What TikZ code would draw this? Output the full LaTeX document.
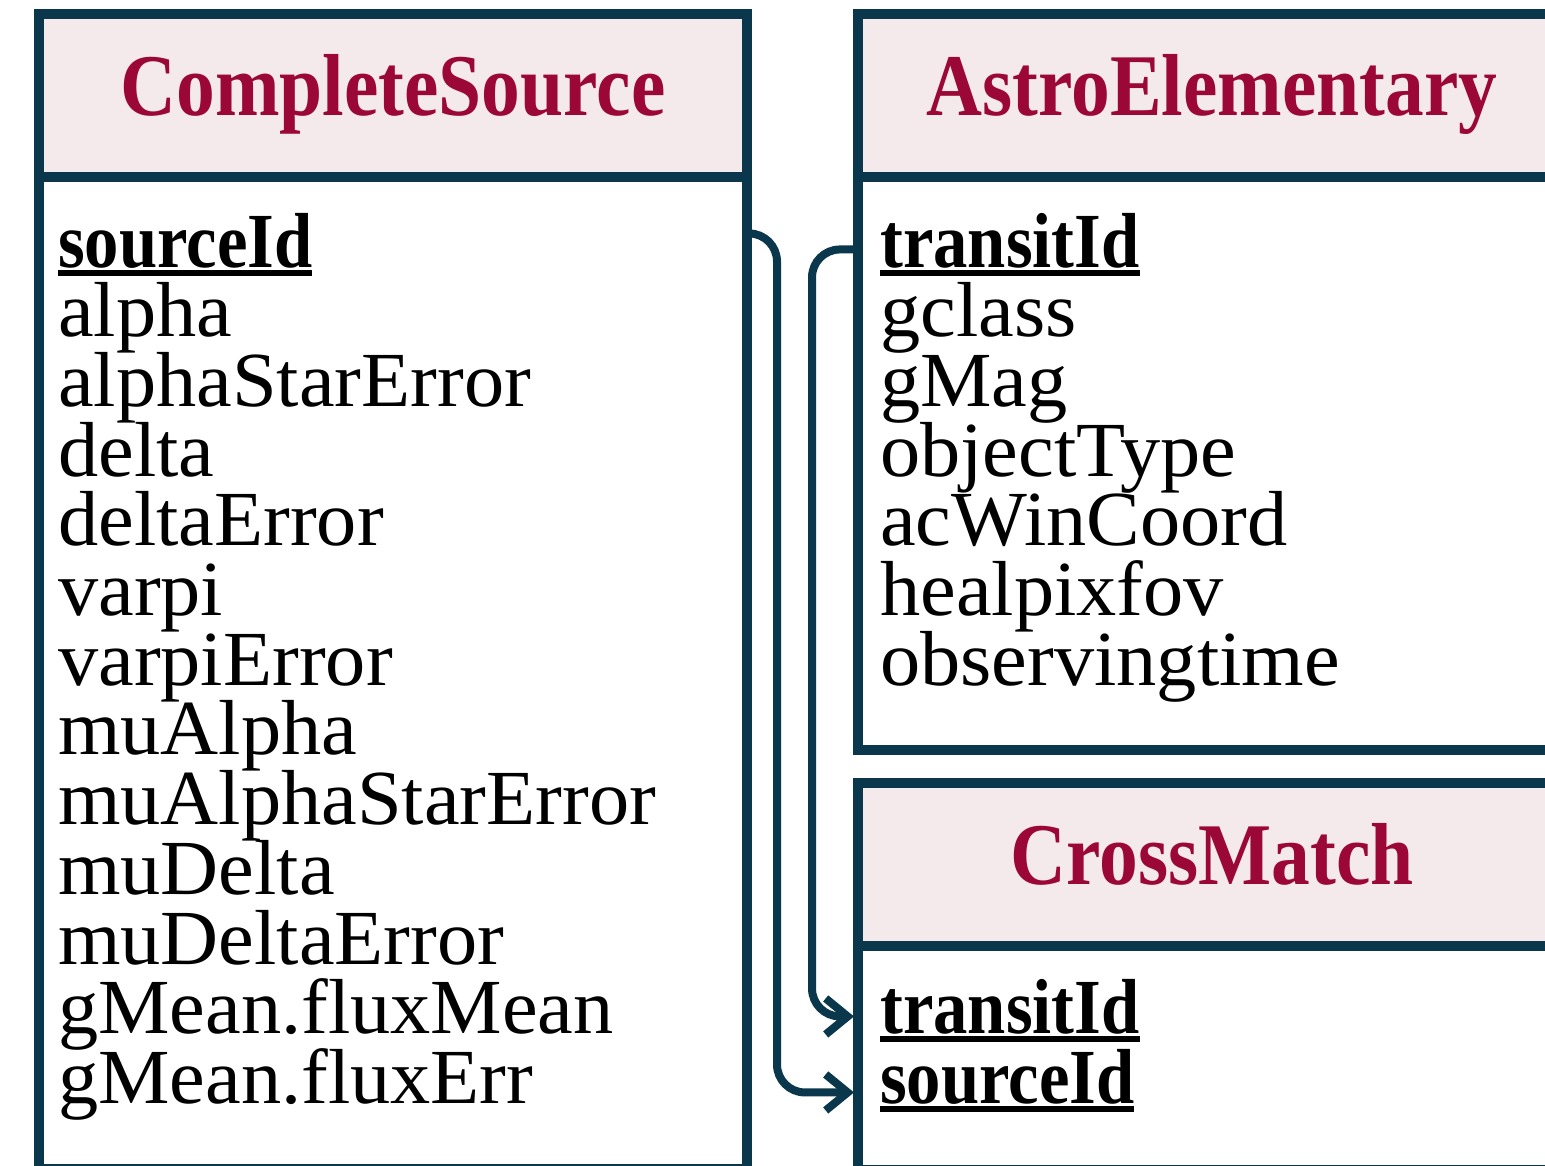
\documentclass[tikz,border=0pt]{standalone}
\usepackage{fontspec}
\setmainfont{Liberation Serif}
\newfontfamily\narrowfont{Liberation Serif}[FakeStretch=0.88]
\newfontfamily\bodyfont{Liberation Serif}[FakeStretch=1.03]
\usetikzlibrary{positioning, arrows.meta}

\definecolor{linecol}{RGB}{10,55,75}
\definecolor{headfill}{RGB}{244,233,235}
\definecolor{titlecol}{RGB}{155,8,55}

% key column: bold, underlined
\newcommand{\pk}[1]{\setbox0\hbox{\narrowfont\bfseries #1}\rlap{\rule[-9pt]{\wd0}{6pt}}\box0}

\tikzset{
  tabhead/.style={draw=linecol, fill=headfill, line width=10pt, anchor=north west,
    outer sep=0pt, minimum width=708pt, minimum height=163pt, text=titlecol,
    font=\narrowfont\bfseries\fontsize{88}{88}\selectfont,
    text height=62pt, text depth=22pt},
  tabbody/.style={draw=linecol, fill=white, line width=10pt, anchor=north west,
    outer sep=0pt, minimum width=708pt},
  field/.style={anchor=base west, inner sep=0pt, font=\bodyfont\fontsize{78}{78}\selectfont},
  link/.style={draw=linecol, line width=8pt, rounded corners=28pt, shorten >=4pt,
    -{Straight Barb[length=22pt, width=36pt]}}
}

\begin{document}
\begin{tikzpicture}[x=1pt, y=-1pt]
\useasboundingbox (0,0) rectangle (1545,1165);
\clip (0,0) rectangle (1545,1165);

% CompleteSource
\node[tabhead] (cs) at (39,14) {CompleteSource};
\node[tabbody, minimum height=992pt] (csbody) at (cs.south west) {};
\node[field] (cs-key) at (58,267) {\pk{sourceId}};
\foreach \name [count=\i] in {alpha, alphaStarError, delta, deltaError, varpi,
    varpiError, muAlpha, muAlphaStarError, muDelta, muDeltaError,
    gMean.fluxMean, gMean.fluxErr}
  \node[field] (cs-\i) at (58,267+69.7*\i) {\name};

% AstroElementary
\node[tabhead] (ae) at (858,14) {AstroElementary};
\node[tabbody, minimum height=573pt] (aebody) at (ae.south west) {};
\node[field] (ae-key) at (880,267) {\pk{transitId}};
\foreach \name [count=\i] in {gclass, gMag, objectType, acWinCoord, healpixfov,
    observingtime}
  \node[field] (ae-\i) at (880,267+69.7*\i) {\name};

% CrossMatch
\node[tabhead] (cm) at (858,783) {CrossMatch};
\node[tabbody, minimum height=224pt] (cmbody) at (cm.south west) {};
\node[field] (cm-key1) at (880,1033) {\pk{transitId}};
\node[field] (cm-key2) at (880,1103) {\pk{sourceId}};

% foreign keys
\coordinate (trackS) at (777,0);
\coordinate (trackT) at (812,0);
\coordinate (csS) at ([yshift=11pt]cs-key.east -| csbody.east);
\coordinate (aeT) at ([yshift=-5pt]ae-key.west -| aebody.west);
\coordinate (cmT) at ([yshift=-6pt]cm-key1.west -| cmbody.west);
\coordinate (cmS) at ([yshift=-12pt]cm-key2.west -| cmbody.west);

\draw[link] (csS) -| (trackS |- cmS) -- (cmS);
\draw[link] (aeT) -| (trackT |- cmT) -- (cmT);

\end{tikzpicture}
\end{document}
